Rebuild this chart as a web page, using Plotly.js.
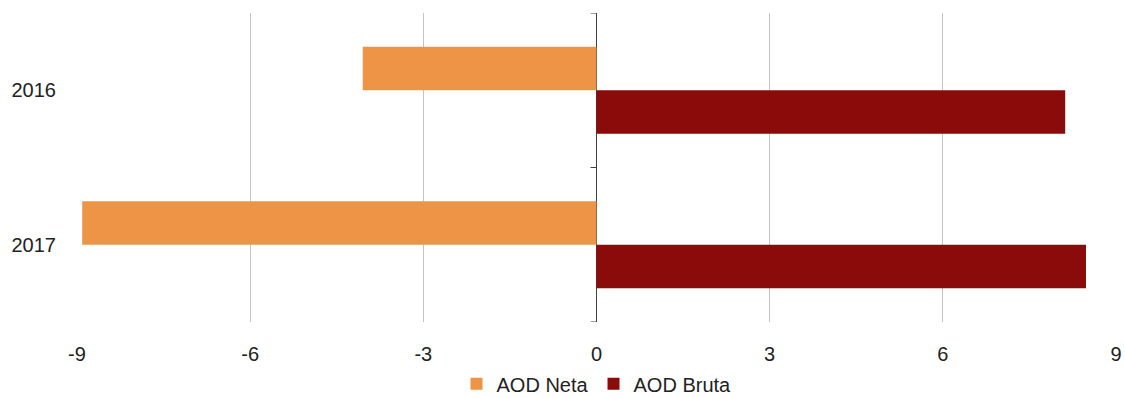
<!DOCTYPE html>
<html>
<head>
<meta charset="utf-8">
<script src="https://cdn.plot.ly/plotly-3.0.1.min.js"></script>
<style>html,body{margin:0;padding:0;background:#fff;}#chart{width:1125px;height:398px;}</style>
</head>
<body>
<div id="chart"></div>
<script>
const years = ["2016", "2017"];
const aodNeta = [-4.05, -8.91];
const aodBruta = [8.12, 8.48];
const xTicks = [-9, -6, -3, 0, 3, 6, 9];

const font = "Liberation Sans, Arial, sans-serif";

const traces = [
  {type: "bar", orientation: "h", name: "AOD Neta", y: years, x: aodNeta,
   marker: {color: "#ED9447"}},
  {type: "bar", orientation: "h", name: "AOD Bruta", y: years, x: aodBruta,
   marker: {color: "#8B0B0B"}}
];

const boundaries = [-0.5, 0.5, 1.5];
const shapes = boundaries.map(b => ({
  type: "line", xref: "x", yref: "y", xsizemode: "pixel", xanchor: 0,
  x0: -6, x1: 0, y0: b, y1: b, line: {color: "#404040", width: 1}, layer: "above"
}));

const layout = {
  width: 1125, height: 398,
  margin: {l: 77, r: 9, t: 13, b: 76, autoexpand: false},
  paper_bgcolor: "#fff", plot_bgcolor: "#fff",
  barmode: "group", bargap: 0.437, bargroupgap: 0,
  font: {family: font, size: 20, color: "#222"},
  xaxis: {
    range: [-9, 9], tickvals: xTicks, ticktext: xTicks.map(String),
    showgrid: true, gridcolor: "#c4c4c4", gridwidth: 1,
    zeroline: true, zerolinecolor: "#404040", zerolinewidth: 1,
    showline: false, ticks: "outside", ticklen: 14, tickcolor: "rgba(0,0,0,0)",
    tickfont: {family: font, size: 20, color: "#222"}, fixedrange: true, automargin: false
  },
  yaxis: {
    type: "category", range: [1.5, -0.5], showgrid: false, zeroline: false,
    showline: false, ticks: "outside", ticklen: 16, tickcolor: "rgba(0,0,0,0)",
    tickfont: {family: font, size: 20, color: "#222"}, fixedrange: true, automargin: false
  },
  shapes: shapes,
  showlegend: true,
  legend: {orientation: "h", xref: "paper", x: 0.5, xanchor: "center",
           yref: "paper", y: -0.2, yanchor: "middle",
           font: {family: font, size: 20, color: "#222"}, traceorder: "normal",
           itemwidth: 30, bgcolor: "rgba(0,0,0,0)"},
};

Plotly.newPlot("chart", traces, layout, {displayModeBar: false, staticPlot: true});
</script>
</body>
</html>
